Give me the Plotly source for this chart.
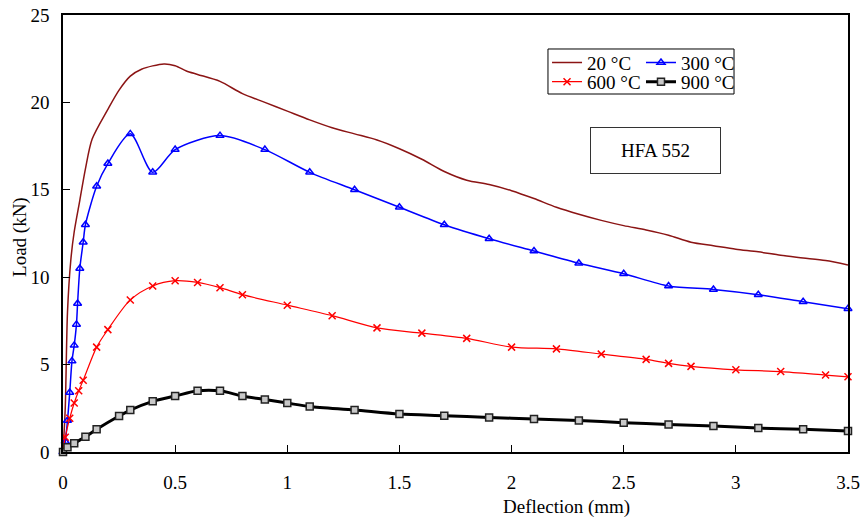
import plotly.graph_objects as go

# Load–deflection curves for HFA 552 at four temperatures
x_20 = [0, 0.01, 0.02, 0.035, 0.05, 0.075, 0.1, 0.13, 0.2, 0.25, 0.3, 0.35, 0.45, 0.5,
        0.55, 0.6, 0.7, 0.8, 0.9, 1.0, 1.1, 1.2, 1.3, 1.4, 1.5, 1.6, 1.7, 1.8, 1.9, 2.0,
        2.1, 2.2, 2.3, 2.4, 2.5, 2.6, 2.7, 2.8, 2.9, 3.0, 3.1, 3.2, 3.3, 3.4, 3.5]
y_20 = [0, 2.5, 8.0, 11.0, 12.6, 14.4, 16.2, 17.9, 19.6, 20.7, 21.5, 21.9, 22.2, 22.1,
        21.8, 21.6, 21.2, 20.5, 20.0, 19.5, 19.0, 18.55, 18.2, 17.85, 17.35, 16.75, 16.05,
        15.55, 15.3, 14.95, 14.5, 14.0, 13.6, 13.25, 12.95, 12.7, 12.4, 12.0, 11.8, 11.6,
        11.45, 11.25, 11.1, 10.95, 10.7]

x_300 = [0, 0.01, 0.02, 0.03, 0.04, 0.05, 0.06, 0.065, 0.075, 0.09, 0.1, 0.15, 0.2, 0.3,
         0.4, 0.5, 0.7, 0.9, 1.1, 1.3, 1.5, 1.7, 1.9, 2.1, 2.3, 2.5, 2.7, 2.9, 3.1, 3.3, 3.5]
y_300 = [0, 0.6, 1.8, 3.4, 5.2, 6.1, 7.3, 8.5, 10.5, 12.0, 13.0, 15.2, 16.5, 18.2,
         16.0, 17.3, 18.1, 17.3, 16.0, 15.0, 14.0, 13.0, 12.2, 11.5, 10.8, 10.2, 9.5,
         9.3, 9.0, 8.6, 8.2]

x_600 = [0, 0.01, 0.03, 0.05, 0.07, 0.09, 0.15, 0.2, 0.3, 0.4, 0.5, 0.6, 0.7, 0.8, 1.0,
         1.2, 1.4, 1.6, 1.8, 2.0, 2.2, 2.4, 2.6, 2.7, 2.8, 3.0, 3.2, 3.4, 3.5]
y_600 = [0, 0.84, 1.93, 2.8, 3.5, 4.1, 6.0, 7.0, 8.7, 9.5, 9.8, 9.7, 9.4, 9.0, 8.4,
         7.8, 7.1, 6.8, 6.5, 6.0, 5.9, 5.6, 5.3, 5.07, 4.9, 4.7, 4.6, 4.4, 4.3]

x_900 = [0, 0.02, 0.05, 0.1, 0.15, 0.25, 0.3, 0.4, 0.5, 0.6, 0.7, 0.8, 0.9, 1.0, 1.1,
         1.3, 1.5, 1.7, 1.9, 2.1, 2.3, 2.5, 2.7, 2.9, 3.1, 3.3, 3.5]
y_900 = [0, 0.27, 0.5, 0.87, 1.3, 2.06, 2.4, 2.9, 3.2, 3.5, 3.5, 3.2, 3.0, 2.8, 2.6,
         2.4, 2.17, 2.08, 1.98, 1.89, 1.8, 1.68, 1.58, 1.49, 1.37, 1.3, 1.2]

FONT = "Liberation Serif, Times New Roman, serif"

fig = go.Figure()

fig.add_trace(go.Scatter(
    x=x_20, y=y_20, name="20 °C", mode="lines",
    line=dict(color="#8B1414", width=1.5, shape="spline", smoothing=0.8),
    legend="legend", cliponaxis=False))
fig.add_trace(go.Scatter(
    x=x_300, y=y_300, name="300 °C", mode="lines+markers",
    line=dict(color="#0000FF", width=1.5, shape="spline", smoothing=0.8),
    marker=dict(symbol="triangle-up-open", size=7, color="#0000FF", line=dict(width=1.5)),
    legend="legend2", cliponaxis=False))
fig.add_trace(go.Scatter(
    x=x_600, y=y_600, name="600 °C", mode="lines+markers",
    line=dict(color="#FF0000", width=1.2, shape="spline", smoothing=0.8),
    marker=dict(symbol="x-thin", size=7, color="#FF0000", line=dict(width=1.5, color="#FF0000")),
    legend="legend3", cliponaxis=False))
fig.add_trace(go.Scatter(
    x=x_900, y=y_900, name="900 °C", mode="lines+markers",
    line=dict(color="#000000", width=3, shape="spline", smoothing=0.8),
    marker=dict(symbol="square", size=7, color="#C8C8C8", line=dict(width=1.5, color="#222222")),
    legend="legend4", cliponaxis=False))

axis_common = dict(
    showline=True, linecolor="black", linewidth=1.5, mirror=True,
    ticks="inside", ticklen=7, tickwidth=1, tickcolor="black",
    showgrid=False, zeroline=False, automargin=False,
    tickfont=dict(family=FONT, size=19, color="black"),
)

fig.update_xaxes(range=[0, 3.5], dtick=0.5, tick0=0, ticklabelstandoff=12, **axis_common)
fig.update_yaxes(range=[0, 25], dtick=5, tick0=0, ticklabelstandoff=8, **axis_common)

legend_common = dict(
    orientation="h", bgcolor="rgba(0,0,0,0)", borderwidth=0,
    font=dict(family=FONT, size=19, color="black"),
    xanchor="left", yanchor="middle", itemwidth=30,
)

col1, col2 = 0.6166, 0.7363
row1, row2 = 0.891, 0.847

fig.update_layout(
    width=861, height=521,
    margin=dict(l=63, r=13, t=15, b=69, autoexpand=False),
    paper_bgcolor="white", plot_bgcolor="white",
    font=dict(family=FONT, size=19, color="black"),
    showlegend=True,
    legend=dict(x=col1, y=row1, **legend_common),
    legend2=dict(x=col2, y=row1, **legend_common),
    legend3=dict(x=col1, y=row2, **legend_common),
    legend4=dict(x=col2, y=row2, **legend_common),
    shapes=[
        dict(type="rect", xref="paper", yref="paper",
             x0=0.6178, x1=0.8548, y0=0.8192, y1=0.9222,
             line=dict(color="black", width=1), fillcolor="rgba(0,0,0,0)"),
    ],
    annotations=[
        dict(text="HFA 552", xref="paper", yref="paper", x=0.7548, y=0.69,
             xanchor="center", yanchor="middle",
             showarrow=False, width=127, height=43, bordercolor="#333333", borderwidth=1,
             font=dict(family=FONT, size=19, color="black")),
        dict(text="Deflection (mm)", xref="paper", yref="paper", x=0.642, y=-0.1259,
             xanchor="center", yanchor="middle",
             showarrow=False, font=dict(family=FONT, size=19, color="black")),
        dict(text="Load (kN)", xref="paper", yref="paper", x=-0.0548, y=0.492,
             xanchor="center", yanchor="middle",
             textangle=-90, showarrow=False, font=dict(family=FONT, size=19, color="black")),
    ],
)

fig.write_html("out.html")
